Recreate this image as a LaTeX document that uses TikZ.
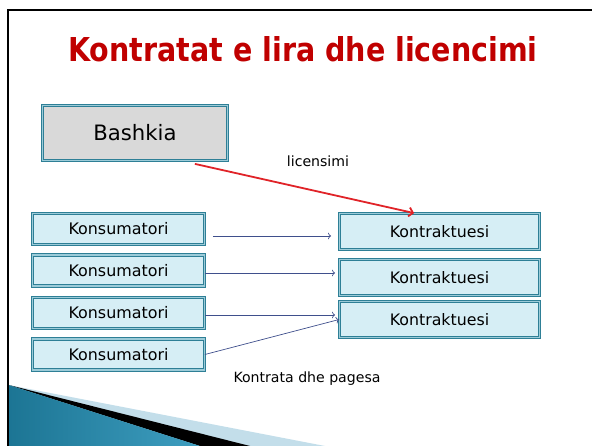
\documentclass[tikz,border=0pt]{standalone}
\usepackage{fontspec}
\setmainfont{DejaVu Sans}
\usepackage{graphicx}
\usetikzlibrary{arrows.meta}
\definecolor{titlered}{HTML}{C00000}
\definecolor{boxteal}{HTML}{2E7F96}
\definecolor{boxline}{HTML}{9CCBD8}
\definecolor{boxfill}{HTML}{D6EEF5}
\definecolor{boxgray}{HTML}{D9D9D9}
\definecolor{linknavy}{HTML}{3F4F8C}
\definecolor{licred}{HTML}{E02328}
\definecolor{wedgeteal}{HTML}{1C7594}
\definecolor{wedgeblue}{HTML}{3E9EC0}
\definecolor{wedgelight}{HTML}{C3DEEA}
\begin{document}
\begin{tikzpicture}[x=1pt,y=-1pt,
	box/.style={draw=boxteal,double=boxline,double distance=1.1pt,line width=1.1pt,inner sep=0pt},
	konbox/.style={box,fill=boxfill,minimum width=171.7pt,minimum height=31pt,font=\fontsize{15.9}{18}\selectfont},
	ktbox/.style={box,fill=boxfill,minimum width=199.7pt,minimum height=35.7pt,font=\fontsize{15.8}{18}\selectfont},
	link/.style={draw=linknavy,line width=0.7pt,arrows=->},
	smalltext/.style={font=\fontsize{14.1}{16}\selectfont}]
	\useasboundingbox (0,0) rectangle (592,446);
	% Slide frame and corner
	\fill [wedgelight] (8.7,385) -- (325,446) -- (8.7,446) -- cycle;
	\fill [black] (8.7,385) -- (250,446) -- (200,446) -- cycle;
	\shade [left color=wedgeteal,right color=wedgeblue] (8.7,385) -- (200,446) -- (8.7,446) -- cycle;
	\draw [line width=2pt] (7.7,446) -- (7.7,10.3) -- (592,10.3);
	\node (title) [anchor=base,text=titlered,font=\fontsize{32.9}{36}\selectfont\bfseries] at (303,62) {\scalebox{0.867}[1]{Kontratat e lira dhe licencimi}};
	% Boxes
	\node (bash) [box,fill=boxgray,minimum width=184.7pt,minimum height=54.7pt,font=\fontsize{21.2}{24}\selectfont] at (135,133) {Bashkia};
	\node (kon1) [konbox] at (118.5,229) {Konsumatori};
	\node (kon2) [konbox] at (118.5,270.5) {Konsumatori};
	\node (kon3) [konbox] at (118.5,313) {Konsumatori};
	\node (kon4) [konbox] at (118.5,354.5) {Konsumatori};
	\node (kt1) [ktbox] at (439.5,231.5) {Kontraktuesi};
	\node (kt2) [ktbox] at (439.5,277.5) {Kontraktuesi};
	\node (kt3) [ktbox] at (439.5,319.5) {Kontraktuesi};
	% Links
	\draw [draw=licred,line width=1.8pt,arrows={-Straight Barb[length=4pt,width=9pt]}] ([xshift=-33pt,yshift=-3pt]bash.south east) -- ([xshift=75pt]kt1.north west);
	\node (lic) [smalltext] at (318,161.7) {licensimi};
	\draw [link] ([xshift=8pt,yshift=-7pt]kon1.east) -- ([xshift=-8pt,yshift=-4.5pt]kt1.west);
	\draw [link] ([yshift=-2.5pt]kon2.east) -- ([xshift=-4pt,yshift=4.5pt]kt2.west);
	\draw [link] ([yshift=-2pt]kon3.east) -- ([xshift=-4pt,yshift=4.5pt]kt3.west);
	\draw [link] (kon4.east) -- (kt3.west);
	\node (pay) [smalltext] at (307,379) {Kontrata dhe pagesa};
\end{tikzpicture}
\end{document}
